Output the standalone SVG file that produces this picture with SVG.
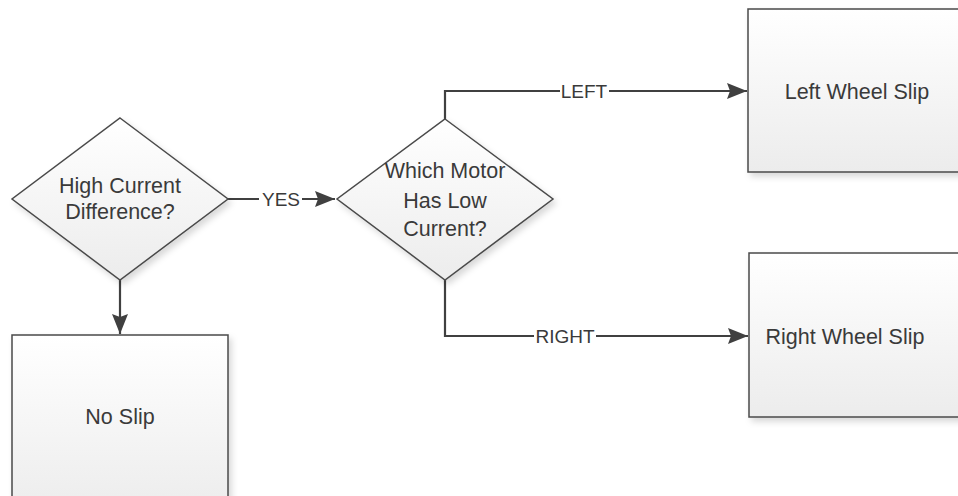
<svg xmlns="http://www.w3.org/2000/svg" width="958" height="496" viewBox="0 0 958 496">
<style>
.shape{stroke:#4a4a4a;stroke-width:1.5;fill:url(#g)}
.t{font-family:"Liberation Sans",Arial,sans-serif;font-size:21.5px;fill:#3a3a3a;text-anchor:middle}
.c{fill:none;stroke:#404040;stroke-width:2.2}
.lbl{font-family:"Liberation Sans",Arial,sans-serif;font-size:19px;fill:#3a3a3a;text-anchor:middle}
</style>
<defs>
<linearGradient id="g" x1="0" y1="0" x2="0" y2="1">
<stop offset="0" stop-color="#ffffff"/>
<stop offset="1" stop-color="#ececec"/>
</linearGradient>
<filter id="sh" x="-10%" y="-10%" width="130%" height="130%">
<feDropShadow dx="3" dy="4" stdDeviation="3" flood-color="#000" flood-opacity="0.15"/>
</filter>
<marker id="a" viewBox="0 0 20 16" refX="20" refY="8" markerWidth="20" markerHeight="16" orient="auto" markerUnits="userSpaceOnUse">
<path d="M0,0 L20,8 L0,16 L3,8 Z" fill="#404040"/>
</marker>
</defs>
<rect width="958" height="496" fill="#ffffff"/>
<g id="connectors">
<path class="c" d="M228,199 H335" marker-end="url(#a)"/>
<path class="c" d="M120,280 V334" marker-end="url(#a)"/>
<path class="c" d="M445,119 V91 H747" marker-end="url(#a)"/>
<path class="c" d="M445,280 V336 H748" marker-end="url(#a)"/>
<rect x="259" y="188" width="43" height="22" fill="#ffffff"/>
<text class="lbl" x="281" y="206">YES</text>
<rect x="560" y="80" width="49" height="22" fill="#ffffff"/>
<text class="lbl" x="584" y="98">LEFT</text>
<rect x="534" y="325" width="62" height="22" fill="#ffffff"/>
<text class="lbl" x="565" y="343">RIGHT</text>
</g>
<g id="high-current-difference">
<polygon class="shape" filter="url(#sh)" points="120,118 228,199 120,280 12,199"/>
<text class="t" x="120" y="193">High Current</text>
<text class="t" x="120" y="219">Difference?</text>
</g>
<g id="which-motor">
<polygon class="shape" filter="url(#sh)" points="445,119 553,199 445,280 337,199"/>
<text class="t" x="445" y="178">Which Motor</text>
<text class="t" x="445" y="208">Has Low</text>
<text class="t" x="445" y="236">Current?</text>
</g>
<g id="left-wheel-slip">
<rect class="shape" filter="url(#sh)" x="748" y="9" width="240" height="163"/>
<text class="t" x="857" y="99">Left Wheel Slip</text>
</g>
<g id="right-wheel-slip">
<rect class="shape" filter="url(#sh)" x="749" y="253" width="240" height="164"/>
<text class="t" x="845" y="344">Right Wheel Slip</text>
</g>
<g id="no-slip">
<rect class="shape" filter="url(#sh)" x="12" y="335" width="216" height="180"/>
<text class="t" x="120" y="424">No Slip</text>
</g>
</svg>
